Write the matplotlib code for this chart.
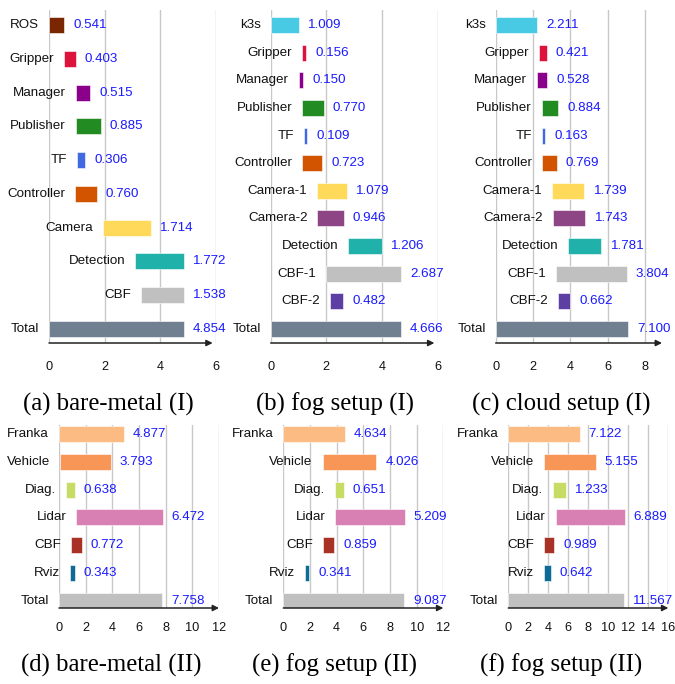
import matplotlib.pyplot as plt

plt.rcParams['font.family'] = ['Liberation Sans', 'DejaVu Sans']

# ---- top row: scenario I ----
a_labels = ['ROS', 'Gripper', 'Manager', 'Publisher', 'TF', 'Controller',
            'Camera', 'Detection', 'CBF', 'Total']
a_start = [0.0, 0.55, 0.96, 0.97, 1.0, 0.95, 1.94, 3.09, 3.30, 0.0]
a_value = [0.541, 0.403, 0.515, 0.885, 0.306, 0.760, 1.714, 1.772, 1.538, 4.854]

b_labels = ['k3s', 'Gripper', 'Manager', 'Publisher', 'TF', 'Controller',
            'Camera-1', 'Camera-2', 'Detection', 'CBF-1', 'CBF-2', 'Total']
b_start = [0.0, 1.13, 1.02, 1.14, 1.20, 1.13, 1.67, 1.68, 2.79, 2.00, 2.13, 0.0]
b_value = [1.009, 0.156, 0.150, 0.770, 0.109, 0.723, 1.079, 0.946, 1.206,
           2.687, 0.482, 4.666]

c_labels = b_labels
c_start = [0.0, 2.32, 2.23, 2.47, 2.50, 2.50, 3.02, 3.07, 3.89, 3.22, 3.34, 0.0]
c_value = [2.211, 0.421, 0.528, 0.884, 0.163, 0.769, 1.739, 1.743, 1.781,
           3.804, 0.662, 7.100]

# ---- bottom row: scenario II ----
d_labels = ['Franka', 'Vehicle', 'Diag.', 'Lidar', 'CBF', 'Rviz', 'Total']
d_start = [0.0, 0.07, 0.53, 1.30, 0.93, 0.85, 0.0]
d_value = [4.877, 3.793, 0.638, 6.472, 0.772, 0.343, 7.758]

e_labels = d_labels
e_start = [0.0, 2.95, 3.90, 3.90, 2.98, 1.60, 0.0]
e_value = [4.634, 4.026, 0.651, 5.209, 0.859, 0.341, 9.087]

f_labels = d_labels
f_start = [0.0, 3.60, 4.50, 4.74, 3.60, 3.60, 0.0]
f_value = [7.122, 5.155, 1.233, 6.889, 0.989, 0.642, 11.567]

colors_I = {
    'ROS': '#7a2600', 'k3s': '#48cae4', 'Gripper': '#dc143c',
    'Manager': '#8b008b', 'Publisher': '#228b22', 'TF': '#4169e1',
    'Controller': '#d35400', 'Camera': '#ffd95a', 'Camera-1': '#ffd95a',
    'Camera-2': '#8e4585', 'Detection': '#20b2aa', 'CBF': '#c0c0c0',
    'CBF-1': '#c0c0c0', 'CBF-2': '#5d3fa3', 'Total': '#708090',
}
colors_II = {
    'Franka': '#fdbb84', 'Vehicle': '#f89658', 'Diag.': '#c6dc64',
    'Lidar': '#d87fb4', 'CBF': '#a93226', 'Rviz': '#0e6b96',
    'Total': '#c0c0c0',
}

W, H = 675, 684
fig = plt.figure(figsize=(W / 100, H / 100), dpi=100)


def panel(x0, x1, grid_top, axis_y, first_y, last_y, xmax, arrow_end, ticks,
          labels, start, value, cmap, tick_pad, caption, cap_x, cap_y):
    ax = fig.add_axes([x0 / W, 1 - axis_y / H, (x1 - x0) / W,
                       (axis_y - grid_top) / H])
    n = len(labels)
    step = (last_y - first_y) / (n - 1)
    ax.set_ylim(n - 1 + (axis_y - last_y) / step, -(first_y - grid_top) / step)
    ax.set_xlim(0, xmax)
    ys = list(range(n))
    ax.barh(ys, value, left=start, height=16 / step,
            color=[cmap[l] for l in labels], edgecolor='white', linewidth=0.4,
            zorder=2)
    for y, lab, s, v in zip(ys, labels, start, value):
        ax.annotate(lab, xy=(s, y), xytext=(-10, 0), textcoords='offset pixels',
                    ha='right', va='center', fontsize=9.6, color='#111111',
                    annotation_clip=False)
        ax.annotate(f'{v:.3f}', xy=(s + v, y), xytext=(9, 0),
                    textcoords='offset pixels', ha='left', va='center',
                    fontsize=9.6, color='#1a1aff', annotation_clip=False,
                    zorder=3)
    ax.set_xticks(ticks)
    ax.set_xticklabels([str(t) for t in ticks])
    ax.set_yticks([])
    ax.grid(axis='x', color='#c8c8c8', linewidth=1.0)
    ax.set_axisbelow(True)
    for sp in ax.spines.values():
        sp.set_visible(False)
    ax.tick_params(axis='x', length=0, pad=tick_pad, labelsize=9.2,
                   labelcolor='#111111')
    ax.annotate('', xy=(arrow_end, 0), xycoords=('data', 'axes fraction'),
                xytext=(0, 0), textcoords=('data', 'axes fraction'),
                arrowprops=dict(arrowstyle='-|>', color='#222222', lw=1.1,
                                mutation_scale=9, shrinkA=0, shrinkB=0),
                annotation_clip=False)
    fig.text(cap_x / W, 1 - cap_y / H, caption, ha='center', va='center',
             fontsize=17.8, family=['Liberation Serif', 'DejaVu Serif'])
    return ax


top = dict(grid_top=10, axis_y=343, first_y=25, last_y=329, tick_pad=13,
           cap_y=404)
bot = dict(grid_top=425, axis_y=608, first_y=434, last_y=600.7, tick_pad=10,
           cap_y=665)

panel(49, 216, xmax=6, arrow_end=5.88, ticks=[0, 2, 4, 6],
      labels=a_labels, start=a_start, value=a_value, cmap=colors_I,
      caption='(a) bare-metal (I)', cap_x=108, **top)
panel(270.7, 437.7, xmax=6, arrow_end=5.88, ticks=[0, 2, 4, 6],
      labels=b_labels, start=b_start, value=b_value, cmap=colors_I,
      caption='(b) fog setup (I)', cap_x=335, **top)
panel(495.7, 662, xmax=(662 - 495.7) / 18.65, arrow_end=(662 - 495.7) / 18.65,
      ticks=[0, 2, 4, 6, 8],
      labels=c_labels, start=c_start, value=c_value, cmap=colors_I,
      caption='(c) cloud setup (I)', cap_x=561, **top)

panel(59, 219, xmax=12, arrow_end=12, ticks=list(range(0, 13, 2)),
      labels=d_labels, start=d_start, value=d_value, cmap=colors_II,
      caption='(d) bare-metal (II)', cap_x=111, **bot)
panel(283.3, 443.3, xmax=12, arrow_end=12, ticks=list(range(0, 13, 2)),
      labels=e_labels, start=e_start, value=e_value, cmap=colors_II,
      caption='(e) fog setup (II)', cap_x=334, **bot)
panel(508.3, 668.3, xmax=16, arrow_end=16, ticks=list(range(0, 17, 2)),
      labels=f_labels, start=f_start, value=f_value, cmap=colors_II,
      caption='(f) fog setup (II)', cap_x=561, **bot)

fig.savefig('out.png', dpi=100)
